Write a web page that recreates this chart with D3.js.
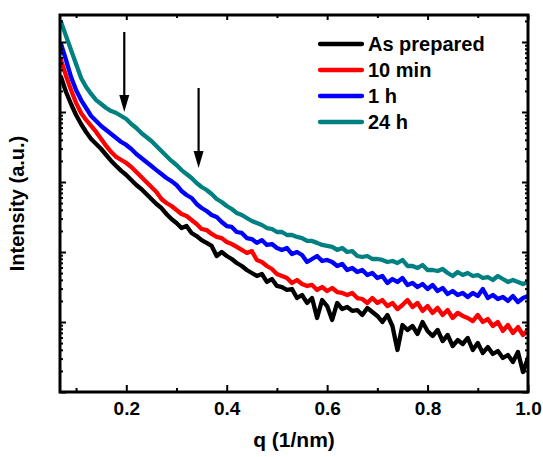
<!DOCTYPE html>
<html>
<head>
<meta charset="utf-8">
<script src="https://cdn.jsdelivr.net/npm/d3@7"></script>
<style>
  body { margin: 0; background: #fff; }
  text { font-family: "Liberation Sans", Arial, Helvetica, sans-serif; font-weight: bold; fill: #000; }
</style>
</head>
<body>
<div id="chart"></div>
<script>
// sample grid of q (1/nm), 0.07 .. 1.00 step 0.01
const qGrid = d3.range(94).map(i => (7 + i) / 100);

const seriesNames = ['As prepared', '10 min', '1 h', '24 h'];
const seriesColors = ['#000000', '#ff0000', '#0000ff', '#008080'];

// intensities (a.u.)
const asPrepared = [
  31600,19300,13000,9060,6740,5180,4110,3490,2960,2430,
  2000,1690,1440,1260,1070,906,794,674,572,485,
  425,349,296,260,220,235,187,169,148,135,
  122,87.7,100,87.7,79.4,69.6,63.1,55.3,50.1,45.4,
  48.5,37.3,41.1,32.7,31.6,28.7,29.6,22.0,24.3,18.7,
  22.0,11.4,20.6,16.9,10.7,18.7,15.3,16.4,14.4,14.8,
  12.6,15.9,13.9,12.2,10.0,12.6,8.77,3.98,9.06,7.69,
  8.77,6.74,10.0,7.44,6.31,7.69,5.35,6.52,4.54,5.53,
  4.85,5.91,3.98,5.01,3.61,4.39,3.49,3.85,3.06,3.38,
  2.68,3.73,1.93,3.06
];
const tenMin = [
  55300,32700,20600,13500,9680,7690,6310,5180,4110,3270,
  2680,2280,2060,1870,1640,1390,1180,1000,848,720,
  572,501,454,398,349,327,287,251,213,206,
  181,164,158,139,130,118,107,96.8,103,76.9,
  72.0,63.1,57.2,48.5,45.4,42.5,36.1,39.8,34.9,32.7,
  33.8,28.7,31.6,27.7,30.6,26.8,26.0,24.3,26.0,22.0,
  21.3,18.7,22.0,18.7,20.6,16.9,18.7,15.3,17.5,20.6,
  16.4,18.7,14.4,16.9,13.5,15.9,12.6,14.8,11.4,13.5,
  12.2,11.4,10.3,12.6,10.0,11.0,8.77,10.0,7.44,9.06,
  6.96,8.48,6.52,7.69
];
const oneHour = [
  93600,55300,31600,20600,14800,11400,8770,7440,6310,5530,
  4850,4250,3730,3380,2960,2510,2200,1930,1690,1480,
  1300,1140,1030,906,744,652,591,485,425,385,
  338,316,268,235,228,193,187,158,153,135,
  148,126,130,114,107,114,93.6,100,90.6,72.0,
  79.4,87.7,74.4,76.9,72.0,63.1,67.4,55.3,59.1,51.8,
  55.3,46.9,50.1,42.5,45.4,36.1,41.1,37.3,42.5,33.8,
  36.1,31.6,34.9,29.6,33.8,27.7,30.6,25.1,27.7,24.3,
  26.0,22.8,26.0,23.5,29.6,22.0,24.3,21.3,22.8,20.0,
  23.5,19.3,22.0,23.5
];
const oneDay = [
  193000,122000,76900,48500,30600,22800,18100,14800,13000,11400,
  10300,9680,8770,7940,6740,5910,5010,4390,3850,3270,
  2770,2350,2000,1750,1480,1300,1140,967,848,769,
  674,572,518,454,411,361,338,306,277,260,
  243,220,213,193,193,175,175,164,158,144,
  144,135,126,122,118,107,114,100,103,87.7,
  84.8,87.7,79.4,79.4,76.9,72.0,74.4,69.6,76.9,63.1,
  63.1,59.1,65.2,55.3,55.3,53.5,57.2,50.1,45.4,51.8,
  46.9,50.1,45.4,46.9,42.5,43.9,39.8,45.4,41.1,37.3,
  39.8,37.3,34.9,37.3
];

const xMajorTicks = [0.2, 0.4, 0.6, 0.8, 1.0];
const xMinorTicks = [0.1, 0.3, 0.5, 0.7, 0.9];
const yMajorTicks = [1, 10, 100, 1000, 10000, 100000];

// arrows marking the shoulders: q position, start and tip intensity
const arrowQ = [0.196, 0.344];
const arrowFrom = [139000, 22000];
const arrowTo = [10000, 1585];

const width = 543, height = 457;
const margin = {left: 60, right: 15, top: 15, bottom: 65};

const svg = d3.select('#chart').append('svg')
  .attr('width', width).attr('height', height);

const x = d3.scaleLinear().domain([0.068, 1.0]).range([margin.left, width - margin.right]);
const y = d3.scaleLog().domain([1, 243000]).range([height - margin.bottom, margin.top]);

const plotW = width - margin.left - margin.right;
const plotH = height - margin.top - margin.bottom;

svg.append('clipPath').attr('id', 'plotClip')
  .append('rect')
  .attr('x', margin.left).attr('y', margin.top)
  .attr('width', plotW).attr('height', plotH);

// series
const allSeries = [asPrepared, tenMin, oneHour, oneDay];
const line = d3.line()
  .x(d => x(d.q))
  .y(d => y(d.v));

const lines = svg.append('g').attr('clip-path', 'url(#plotClip)');
allSeries.forEach(function(vals, i) {
  const pts = qGrid.map((q, j) => ({q: q, v: vals[j]}));
  lines.append('path')
    .datum(pts)
    .attr('fill', 'none')
    .attr('stroke', seriesColors[i])
    .attr('stroke-width', 4.3)
    .attr('stroke-linejoin', 'round')
    .attr('stroke-linecap', 'round')
    .attr('d', line);
});

// arrows
arrowQ.forEach(function(q, i) {
  const ax = x(q), y0 = y(arrowFrom[i]), y1 = y(arrowTo[i]);
  svg.append('line')
    .attr('x1', ax).attr('x2', ax)
    .attr('y1', y0).attr('y2', y1 - 10)
    .attr('stroke', '#000').attr('stroke-width', 2.2);
  svg.append('path')
    .attr('d', `M${ax - 5},${y1 - 17}L${ax + 5},${y1 - 17}L${ax},${y1}Z`)
    .attr('fill', '#000');
});

// axes (ticks inward)
function styleAxis(g) {
  g.select('.domain').remove();
  g.selectAll('.tick line').attr('stroke', '#000').attr('stroke-width', 2);
  g.selectAll('text').style('font-size', '19px');
}

const yMinorTicks = [];
yMajorTicks.forEach(function(m) {
  for (let k = 2; k <= 9; k++) {
    if (m * k < y.domain()[1]) yMinorTicks.push(m * k);
  }
});

svg.append('g')
  .attr('transform', `translate(0,${height - margin.bottom})`)
  .call(d3.axisBottom(x).tickValues(xMajorTicks).tickSize(-7).tickPadding(10).tickFormat(d3.format('.1f')))
  .call(styleAxis);
svg.append('g')
  .attr('transform', `translate(0,${height - margin.bottom})`)
  .call(d3.axisBottom(x).tickValues(xMinorTicks).tickSize(-4).tickFormat(''))
  .call(styleAxis);
svg.append('g')
  .attr('transform', `translate(0,${margin.top})`)
  .call(d3.axisTop(x).tickValues(xMajorTicks).tickSize(-5).tickFormat(''))
  .call(styleAxis);
svg.append('g')
  .attr('transform', `translate(0,${margin.top})`)
  .call(d3.axisTop(x).tickValues(xMinorTicks).tickSize(-3).tickFormat(''))
  .call(styleAxis);

[[margin.left, d3.axisLeft], [width - margin.right, d3.axisRight]].forEach(function(a) {
  svg.append('g')
    .attr('transform', `translate(${a[0]},0)`)
    .call(a[1](y).tickValues(yMajorTicks).tickSize(-6).tickFormat(''))
    .call(styleAxis);
  svg.append('g')
    .attr('transform', `translate(${a[0]},0)`)
    .call(a[1](y).tickValues(yMinorTicks).tickSize(-3).tickFormat(''))
    .call(styleAxis);
});

// frame
svg.append('rect')
  .attr('x', margin.left).attr('y', margin.top)
  .attr('width', plotW).attr('height', plotH)
  .attr('fill', 'none').attr('stroke', '#000').attr('stroke-width', 3);

// axis titles
svg.append('text')
  .attr('x', (margin.left + width - margin.right) / 2)
  .attr('y', 447)
  .attr('text-anchor', 'middle')
  .style('font-size', '21px')
  .text('q (1/nm)');

svg.append('text')
  .attr('transform', `translate(24,${margin.top + plotH / 2}) rotate(-90)`)
  .attr('text-anchor', 'middle')
  .style('font-size', '20px')
  .text('Intensity (a.u.)');

// legend
const legend = svg.append('g').attr('transform', 'translate(320,44)');
seriesNames.forEach(function(name, i) {
  const row = legend.append('g').attr('transform', `translate(0,${i * 26})`);
  row.append('line')
    .attr('x1', 0).attr('x2', 42)
    .attr('stroke', seriesColors[i])
    .attr('stroke-width', 4.3)
    .attr('stroke-linecap', 'round');
  row.append('text')
    .attr('x', 48)
    .attr('dy', '0.36em')
    .style('font-size', '20px')
    .text(name);
});
</script>
</body>
</html>
